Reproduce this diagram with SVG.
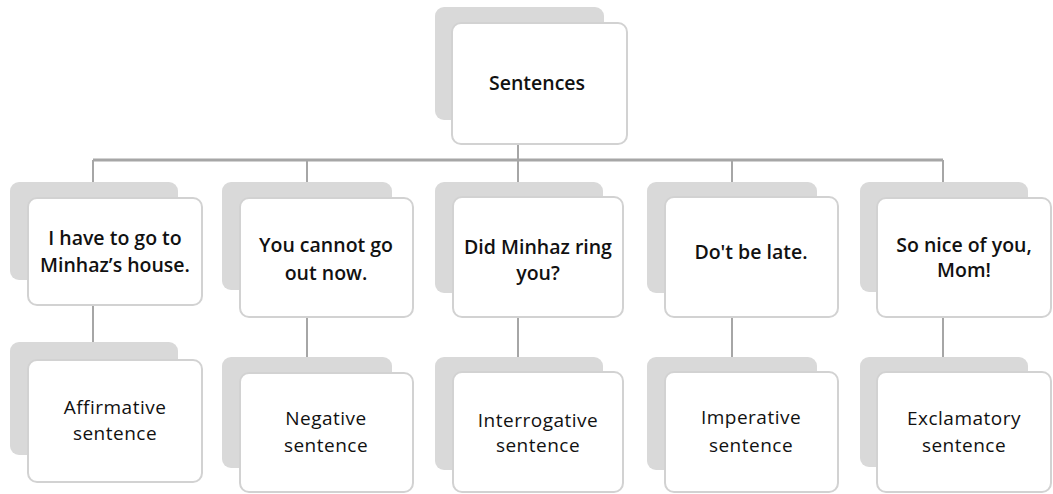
<svg xmlns="http://www.w3.org/2000/svg" width="1053" height="494" viewBox="0 0 1053 494">
<style>
.bg{fill:#fff}
.sh{fill:#d9d9d9}
.bx{fill:#fff;stroke:#d2d2d2;stroke-width:2}
.cn{stroke:#a6a6a6;fill:none}
.t{font-family:"Open Sans","Liberation Sans",sans-serif;font-size:19.5px;font-weight:600;fill:#111;text-anchor:middle}
.b{font-family:"Open Sans","Liberation Sans",sans-serif;font-size:19px;font-weight:400;fill:#111;text-anchor:middle;letter-spacing:0.5px}
</style>
<rect class="bg" width="1053" height="494"/>
<g id="connectors">
<line class="cn" x1="93" y1="160" x2="943" y2="160" stroke-width="3"/>
<line class="cn" x1="518" y1="144" x2="518" y2="160" stroke-width="2"/>
<line class="cn" x1="93" y1="160" x2="93" y2="184" stroke-width="2"/>
<line class="cn" x1="307" y1="160" x2="307" y2="184" stroke-width="2"/>
<line class="cn" x1="518" y1="160" x2="518" y2="184" stroke-width="2"/>
<line class="cn" x1="732" y1="160" x2="732" y2="184" stroke-width="2"/>
<line class="cn" x1="943" y1="160" x2="943" y2="184" stroke-width="2"/>
<line class="cn" x1="93" y1="305" x2="93" y2="344" stroke-width="2"/>
<line class="cn" x1="307" y1="317" x2="307" y2="359" stroke-width="2"/>
<line class="cn" x1="518" y1="317" x2="518" y2="359" stroke-width="2"/>
<line class="cn" x1="732" y1="317" x2="732" y2="359" stroke-width="2"/>
<line class="cn" x1="943" y1="317" x2="943" y2="359" stroke-width="2"/>
</g>
<g id="root">
<rect class="sh" x="435" y="7" width="169" height="113" rx="9"/>
<rect class="bx" x="452" y="23" width="175" height="121" rx="9"/>
<text class="t" x="537" y="90">Sentences</text>
</g>
<g id="s1">
<rect class="sh" x="10" y="182" width="168" height="98" rx="9"/>
<rect class="bx" x="28" y="198" width="174" height="107" rx="9"/>
<text class="t" x="115" y="245">I have to go to</text>
<text class="t" x="115" y="272">Minhaz’s house.</text>
</g>
<g id="t1">
<rect class="sh" x="10" y="342" width="168" height="113" rx="9"/>
<rect class="bx" x="28" y="360" width="174" height="122" rx="9"/>
<text class="b" x="115" y="414">Affirmative</text>
<text class="b" x="115" y="440">sentence</text>
</g>
<g id="s2">
<rect class="sh" x="222" y="182" width="170" height="108" rx="9"/>
<rect class="bx" x="240" y="198" width="173" height="119" rx="9"/>
<text class="t" x="326" y="252">You cannot go</text>
<text class="t" x="326" y="280">out now.</text>
</g>
<g id="t2">
<rect class="sh" x="222" y="357" width="170" height="111" rx="9"/>
<rect class="bx" x="240" y="373" width="173" height="119" rx="9"/>
<text class="b" x="326" y="425">Negative</text>
<text class="b" x="326" y="452">sentence</text>
</g>
<g id="s3">
<rect class="sh" x="435" y="182" width="168" height="111" rx="9"/>
<rect class="bx" x="453" y="197" width="170" height="120" rx="9"/>
<text class="t" x="538" y="254">Did Minhaz ring</text>
<text class="t" x="538" y="280">you?</text>
</g>
<g id="t3">
<rect class="sh" x="435" y="357" width="168" height="113" rx="9"/>
<rect class="bx" x="453" y="372" width="170" height="120" rx="9"/>
<text class="b" x="538" y="427">Interrogative</text>
<text class="b" x="538" y="452">sentence</text>
</g>
<g id="s4">
<rect class="sh" x="647" y="182" width="170" height="111" rx="9"/>
<rect class="bx" x="665" y="197" width="173" height="120" rx="9"/>
<text class="t" x="751" y="259">Do't be late.</text>
</g>
<g id="t4">
<rect class="sh" x="647" y="357" width="170" height="113" rx="9"/>
<rect class="bx" x="665" y="372" width="173" height="120" rx="9"/>
<text class="b" x="751" y="424">Imperative</text>
<text class="b" x="751" y="452">sentence</text>
</g>
<g id="s5">
<rect class="sh" x="860" y="182" width="168" height="110" rx="9"/>
<rect class="bx" x="877" y="198" width="174" height="119" rx="9"/>
<text class="t" x="964" y="252">So nice of you,</text>
<text class="t" x="964" y="277">Mom!</text>
</g>
<g id="t5">
<rect class="sh" x="860" y="357" width="168" height="110" rx="9"/>
<rect class="bx" x="877" y="372" width="174" height="120" rx="9"/>
<text class="b" x="964" y="425">Exclamatory</text>
<text class="b" x="964" y="452">sentence</text>
</g>
</svg>
